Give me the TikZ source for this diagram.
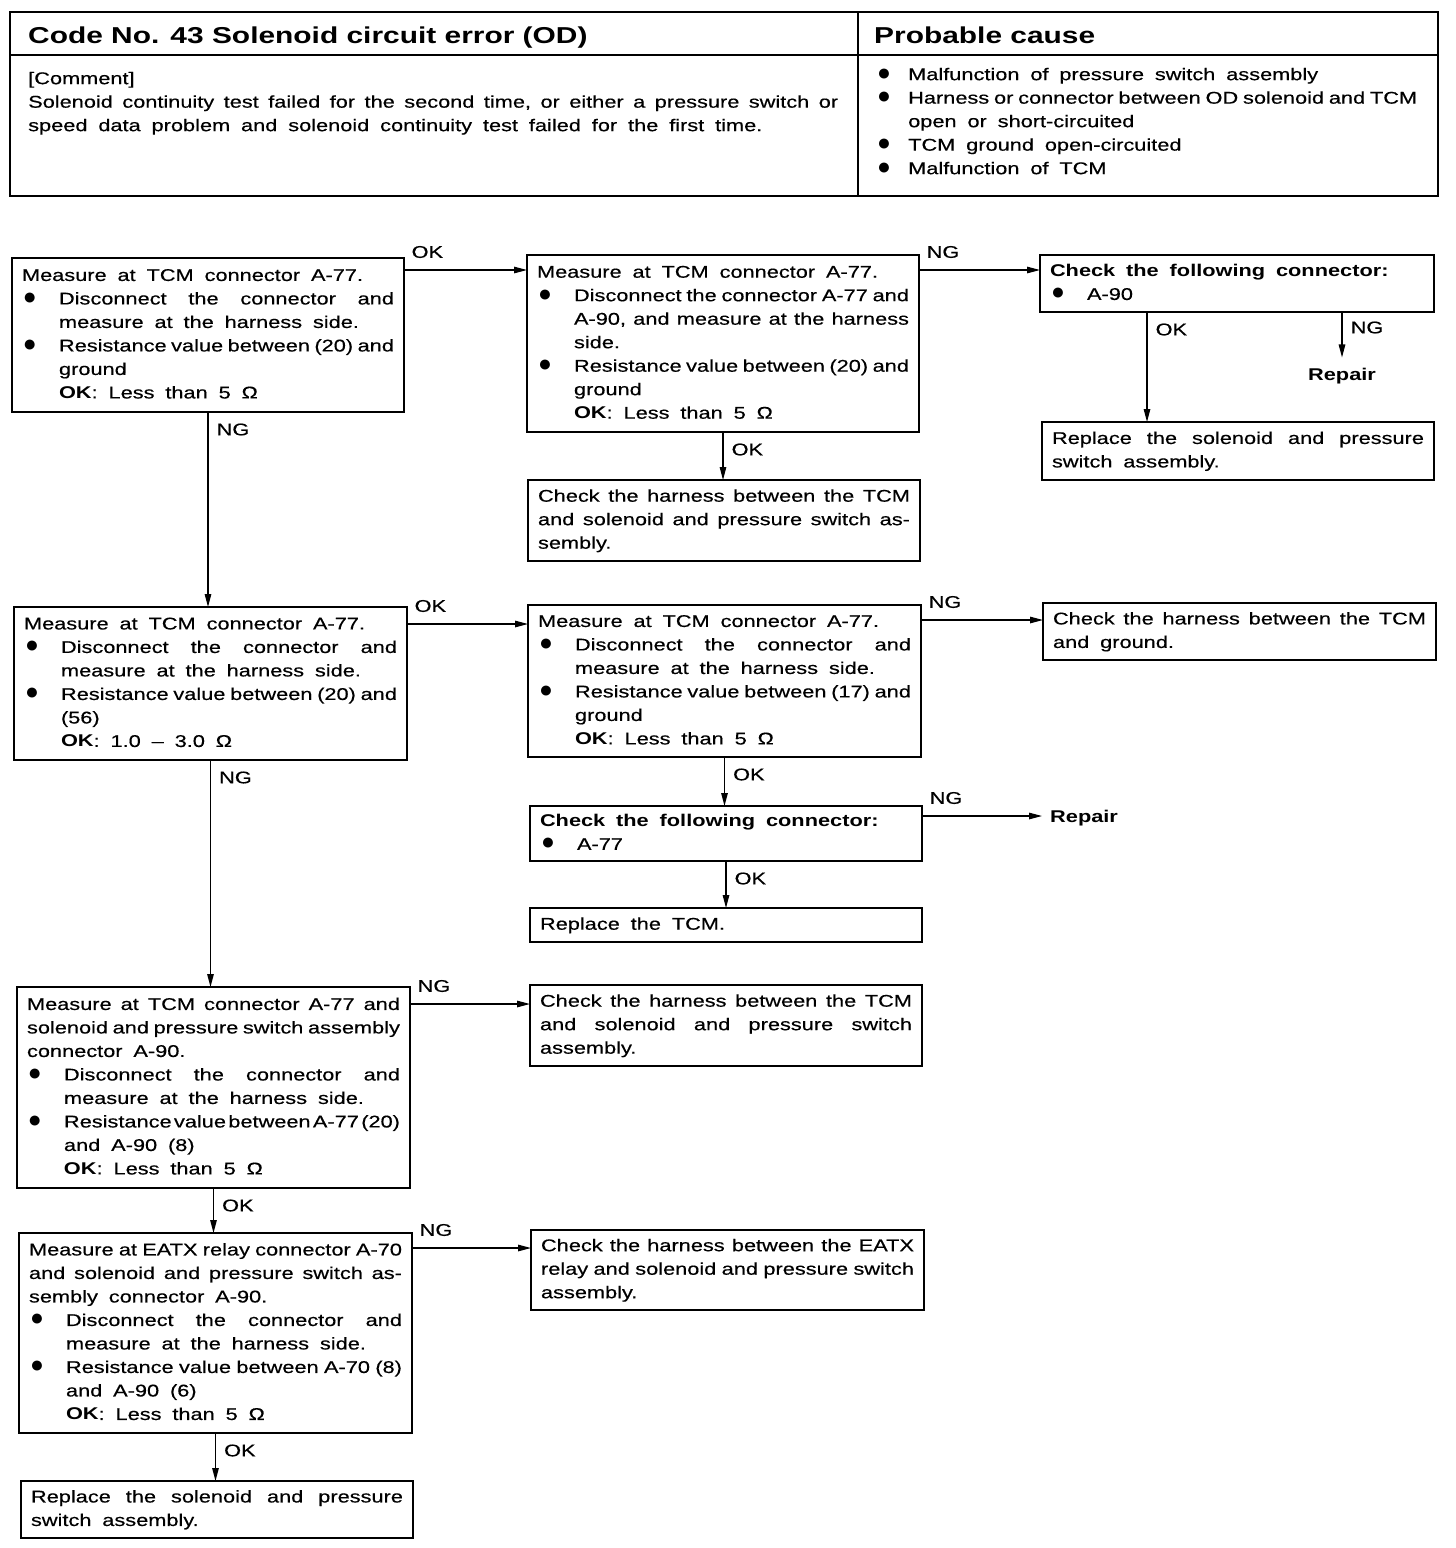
\documentclass[tikz,border=0pt]{standalone}
\usepackage{fontspec}
\setmainfont{Liberation Sans}[FakeStretch=1.28,WordSpace=1.8,UprightFeatures={FakeBold=0.4}]
\newfontfamily\hdfont{Liberation Sans}[FakeStretch=1.3]
\newfontfamily\bulfont{Liberation Sans}
\usetikzlibrary{arrows.meta}
\newcommand{\bodyf}{\fontsize{17pt}{23.5pt}\selectfont\frenchspacing}
\newcommand{\jsp}{\spaceskip=\fontdimen2\font plus 1fil minus .8\fontdimen2\font\relax}
\newcommand{\Ll}[1]{\hbox to\hsize{\strut#1\hfil}}
\newcommand{\Lj}[1]{\hbox to\hsize{\strut\jsp#1}}
\newcommand{\dotg}{{\bulfont\fontsize{23pt}{23pt}\selectfont\char"25CF}}
\newcommand{\bu}{\hbox to 37pt{\hskip1pt\dotg\hfil}}
\newcommand{\bux}{\hbox to 32pt{\hskip1pt\dotg\hfil}}
\newcommand{\Bl}[1]{\Ll{\bu#1}}
\newcommand{\Bj}[1]{\Lj{\bu#1}}
\newcommand{\Cl}[1]{\Ll{\hskip37pt#1}}
\newcommand{\Cj}[1]{\Lj{\hskip37pt#1}}
\newcommand{\Vb}[2]{\vbox{\hsize=#1pt\relax#2}}
\tikzset{
  box/.style={draw, line width=1.3pt, anchor=north west, inner xsep=10pt, inner ysep=0pt, outer sep=0pt, font=\bodyf},
  arr/.style={draw, line width=1.3pt, -{Triangle[length=13pt,width=6.5pt]}},
  lb/.style={font=\bodyf, inner sep=0pt, anchor=west},
  lbh/.style={lb, xshift=7pt, yshift=18pt},
  lbv/.style={lb, xshift=8pt, yshift=-17.5pt},
  rep/.style={font=\bodyf\bfseries}
}
\begin{document}
\begin{tikzpicture}[x=1pt,y=-1pt]
\fill[white] (0,0) rectangle (1456,1548);
\useasboundingbox (0,0) rectangle (1456,1548);

% ---------- header ----------
\node[draw, line width=2pt, anchor=north west, minimum width=1428pt, minimum height=184pt, inner sep=0pt, outer sep=0pt] (hdr) at (10,12) {};
\coordinate (hl) at (0,55);
\coordinate (dv) at (858,0);
\draw[line width=1.4pt] (hdr.west |- hl) -- (hdr.east |- hl);
\draw[line width=1.4pt] (hdr.north -| dv) -- (hdr.south -| dv);
\node[anchor=base west, inner sep=0pt, font=\hdfont\bfseries\fontsize{23pt}{26pt}\selectfont] (title) at (28,43) {Code No. 43 Solenoid circuit error (OD)};
\node[anchor=base west, inner sep=0pt, font=\hdfont\bfseries\fontsize{23pt}{26pt}\selectfont] (pc) at (874,43) {Probable cause};
\node[anchor=north west, inner sep=0pt, font=\bodyf] (cm) at (28,67.5) {\Vb{810}{%
\Ll{[Comment]}
\Lj{Solenoid continuity test failed for the second time, or either a pressure switch or}
\Ll{speed data problem and solenoid continuity test failed for the first time.}}};
\node[anchor=north west, inner sep=0pt, font=\bodyf] (pcl) at (876,63.5) {\Vb{541}{%
\Ll{\bux Malfunction of pressure switch assembly}
\Lj{\bux Harness or connector between OD solenoid and TCM}
\Ll{\hskip32pt open or short-circuited}
\Ll{\bux TCM ground open-circuited}
\Ll{\bux Malfunction of TCM}}};

% ---------- boxes ----------
\node[box, minimum width=392pt, minimum height=154pt] (B1) at (12,258) {\Vb{372}{%
\Ll{Measure at TCM connector A-77.}
\Bj{Disconnect the connector and}
\Cl{measure at the harness side.}
\Bj{Resistance value between (20) and}
\Cl{ground}
\Cl{\textbf{OK}: Less than 5 Ω}}};

\node[box, minimum width=392pt, minimum height=177pt] (B2) at (527,255) {\Vb{372}{%
\Ll{Measure at TCM connector A-77.}
\Bj{Disconnect the connector A-77 and}
\Cj{A-90, and measure at the harness}
\Cl{side.}
\Bj{Resistance value between (20) and}
\Cl{ground}
\Cl{\textbf{OK}: Less than 5 Ω}}};

\node[box, minimum width=394pt, minimum height=57pt] (B3) at (1040,255) {\Vb{374}{%
\Ll{\textbf{Check the following connector:}}
\Bl{A-90}}};

\node[box, minimum width=392pt, minimum height=58pt] (B4) at (1042,422) {\Vb{372}{%
\Lj{Replace the solenoid and pressure}
\Ll{switch assembly.}}};

\node[box, minimum width=392pt, minimum height=81pt] (B5) at (528,480) {\Vb{372}{%
\Lj{Check the harness between the TCM}
\Lj{and solenoid and pressure switch as-}
\Ll{sembly.}}};

\node[box, minimum width=393pt, minimum height=153pt] (B6) at (14,607) {\Vb{373}{%
\Ll{Measure at TCM connector A-77.}
\Bj{Disconnect the connector and}
\Cl{measure at the harness side.}
\Bj{Resistance value between (20) and}
\Cl{(56)}
\Cl{\textbf{OK}: 1.0 – 3.0 Ω}}};

\node[box, minimum width=393pt, minimum height=152pt] (B7) at (528,605) {\Vb{373}{%
\Ll{Measure at TCM connector A-77.}
\Bj{Disconnect the connector and}
\Cl{measure at the harness side.}
\Bj{Resistance value between (17) and}
\Cl{ground}
\Cl{\textbf{OK}: Less than 5 Ω}}};

\node[box, minimum width=393pt, minimum height=57pt] (B8) at (1043,603) {\Vb{373}{%
\Lj{Check the harness between the TCM}
\Ll{and ground.}}};

\node[box, minimum width=392pt, minimum height=55pt] (B9) at (530,806) {\Vb{372}{%
\Ll{\textbf{Check the following connector:}}
\Bl{A-77}}};

\node[box, minimum width=392pt, minimum height=34pt] (B10) at (530,908) {\Vb{372}{%
\Ll{Replace the TCM.}}};

\node[box, minimum width=393pt, minimum height=201pt] (B11) at (17,987) {\Vb{373}{%
\Lj{Measure at TCM connector A-77 and}
\Lj{solenoid and pressure switch assembly}
\Ll{connector A-90.}
\Bj{Disconnect the connector and}
\Cl{measure at the harness side.}
\Bj{Resistance value between A-77 (20)}
\Cl{and A-90 (8)}
\Cl{\textbf{OK}: Less than 5 Ω}}};

\node[box, minimum width=392pt, minimum height=81pt] (B12) at (530,985) {\Vb{372}{%
\Lj{Check the harness between the TCM}
\Lj{and solenoid and pressure switch}
\Ll{assembly.}}};

\node[box, minimum width=393pt, minimum height=200pt] (B13) at (19,1233) {\Vb{373}{%
\Lj{Measure at EATX relay connector A-70}
\Lj{and solenoid and pressure switch as-}
\Ll{sembly connector A-90.}
\Bj{Disconnect the connector and}
\Cl{measure at the harness side.}
\Bj{Resistance value between A-70 (8)}
\Cl{and A-90 (6)}
\Cl{\textbf{OK}: Less than 5 Ω}}};

\node[box, minimum width=393pt, minimum height=80pt] (B14) at (531,1230) {\Vb{373}{%
\Lj{Check the harness between the EATX}
\Lj{relay and solenoid and pressure switch}
\Ll{assembly.}}};

\node[box, minimum width=392pt, minimum height=57pt] (B15) at (21,1481) {\Vb{372}{%
\Lj{Replace the solenoid and pressure}
\Ll{switch assembly.}}};

\node[rep, anchor=base, inner xsep=0pt, inner ysep=10pt] (r1) at (1342,380) {Repair};
\node[rep, anchor=base west, inner xsep=8pt, inner ysep=0pt] (r2) at (1042,822) {Repair};

% ---------- connectors ----------
\coordinate (s1) at ([yshift=-12pt]B1.north east);
\draw[arr] (s1) -- (s1 -| B2.west) node[lbh, at start] {OK};
\coordinate (s2) at ([yshift=-15pt]B2.north east);
\draw[arr] (s2) -- (s2 -| B3.west) node[lbh, at start] {NG};
\coordinate (s3) at ([xshift=107pt]B3.south west);
\draw[arr] (s3) -- (s3 |- B4.north) node[lbv, at start] {OK};
\coordinate (s4) at ([xshift=302pt]B3.south west);
\draw[arr] (s4) -- (s4 |- r1.north) node[lbv, at start, yshift=2pt] {NG};
\draw[arr] (B2.south) -- (B2.south |- B5.north) node[lbv, at start] {OK};
\draw[arr] (B1.south) -- (B1.south |- B6.north) node[lbv, at start] {NG};
\coordinate (s7) at ([yshift=-17pt]B6.north east);
\draw[arr] (s7) -- (s7 -| B7.west) node[lbh, at start] {OK};
\coordinate (s8) at ([yshift=-15pt]B7.north east);
\draw[arr] (s8) -- (s8 -| B8.west) node[lbh, at start] {NG};
\draw[arr] (B7.south) -- (B7.south |- B9.north) node[lbv, at start] {OK};
\coordinate (s10) at ([yshift=-10pt]B9.north east);
\draw[arr] (s10) -- (s10 -| r2.west) node[lbh, at start] {NG};
\draw[arr] (B9.south) -- (B9.south |- B10.north) node[lbv, at start] {OK};
\draw[arr] (B6.south) -- (B6.south |- B11.north) node[lbv, at start] {NG};
\coordinate (s13) at ([yshift=-17pt]B11.north east);
\draw[arr] (s13) -- (s13 -| B12.west) node[lbh, at start] {NG};
\draw[arr] (B11.south) -- (B11.south |- B13.north) node[lbv, at start] {OK};
\coordinate (s15) at ([yshift=-15pt]B13.north east);
\draw[arr] (s15) -- (s15 -| B14.west) node[lbh, at start] {NG};
\draw[arr] (B13.south) -- (B13.south |- B15.north) node[lbv, at start] {OK};
\end{tikzpicture}
\end{document}
